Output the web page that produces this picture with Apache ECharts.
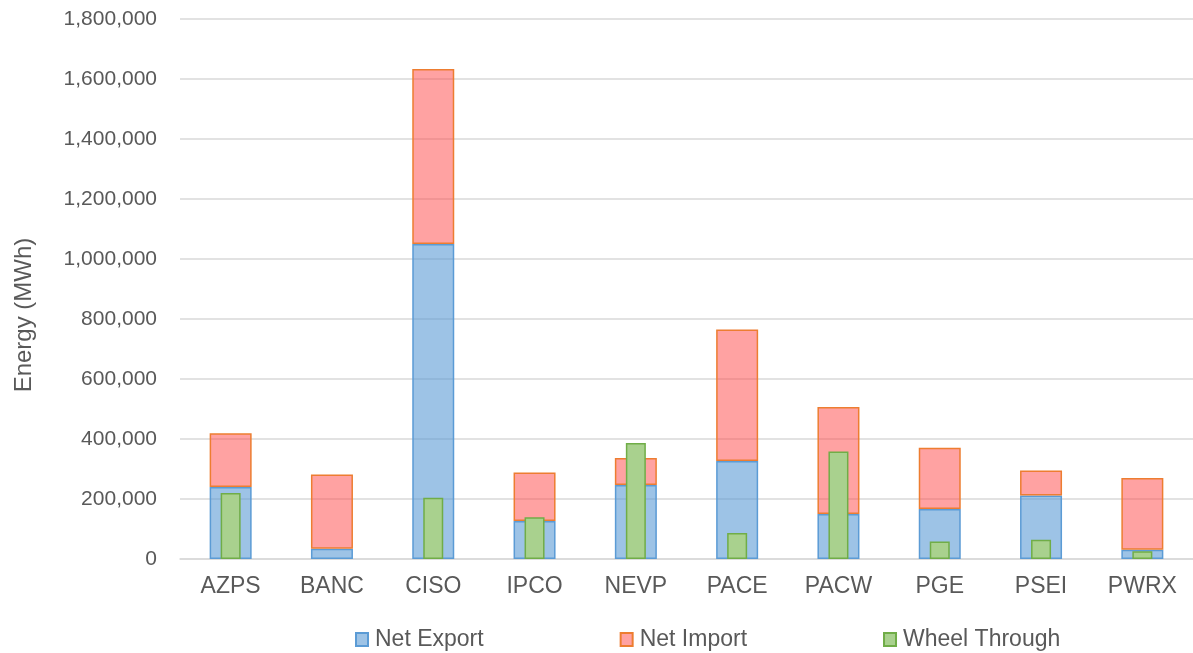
<!DOCTYPE html>
<html>
<head>
<meta charset="utf-8">
<script src="https://cdn.jsdelivr.net/npm/echarts@6/dist/echarts.min.js"></script>
<style>
html,body{margin:0;padding:0;background:#fff;}
#chart{width:1193px;height:653px;}
</style>
</head>
<body>
<div id="chart"></div>
<script>
const categories = ['AZPS','BANC','CISO','IPCO','NEVP','PACE','PACW','PGE','PSEI','PWRX'];
const netExport = [240000, 34000, 1050000, 127000, 247000, 327000, 150000, 167000, 212000, 31000];
const netImport = [179000, 248000, 583000, 161000, 90000, 438000, 357000, 204000, 83000, 239000];
const wheelThrough = [220000, 0, 204000, 139000, 387000, 87000, 358000, 58000, 64000, 26000];
const yTicks = {min: 0, max: 1800000, interval: 200000};

const FONT = '"Liberation Sans", Arial, sans-serif';
const TXT = '#595959';
const chart = echarts.init(document.getElementById('chart'), null, {renderer: 'canvas'});
chart.setOption({
  animation: false,
  backgroundColor: '#ffffff',
  textStyle: {fontFamily: FONT},
  grid: {left: 180, top: 19, width: 1019, height: 540, containLabel: false},
  legend: {
    top: 623,
    left: 350,
    itemGap: 136,
    itemWidth: 12,
    itemHeight: 13,
    icon: 'rect',
    textStyle: {fontFamily: FONT, fontSize: 23, color: TXT, padding: [0,0,0,2]},
    data: ['Net Export','Net Import','Wheel Through']
  },
  xAxis: [
    {type: 'category', data: categories,
     axisLine: {show: true, lineStyle: {color: '#D9D9D9', width: 1.5}},
     axisTick: {show: false},
     axisLabel: {fontFamily: FONT, fontSize: 23, color: TXT, margin: 16}},
    {type: 'category', data: categories, show: false}
  ],
  yAxis: {
    type: 'value', min: yTicks.min, max: yTicks.max, interval: yTicks.interval,
    name: 'Energy (MWh)', nameLocation: 'middle', nameGap: 144, nameRotate: 90,
    nameTextStyle: {fontFamily: FONT, fontSize: 24, color: TXT, padding: [0, 52, 0, 0]},
    axisLine: {show: false}, axisTick: {show: false},
    splitLine: {lineStyle: {color: '#D9D9D9', width: 1.5}},
    axisLabel: {fontFamily: FONT, fontSize: 21, color: TXT, margin: 23,
      formatter: v => v.toLocaleString('en-US')}
  },
  series: [
    {name: 'Net Export', type: 'bar', stack: 'total', xAxisIndex: 0, barWidth: 42, data: netExport,
     itemStyle: {color: 'rgba(91,155,213,0.6)', borderColor: '#5B9BD5', borderWidth: 1.5}},
    {name: 'Net Import', type: 'bar', stack: 'total', xAxisIndex: 0, barWidth: 42, data: netImport,
     itemStyle: {color: 'rgba(255,70,70,0.5)', borderColor: '#ED7D31', borderWidth: 1.5}},
    {name: 'Wheel Through', type: 'bar', xAxisIndex: 1, barWidth: 20, z: 5,
     data: wheelThrough.map(v => v === 0 ? null : v),
     itemStyle: {color: '#A9D18E', borderColor: '#70AD47', borderWidth: 1.5}}
  ]
});
</script>
</body>
</html>
